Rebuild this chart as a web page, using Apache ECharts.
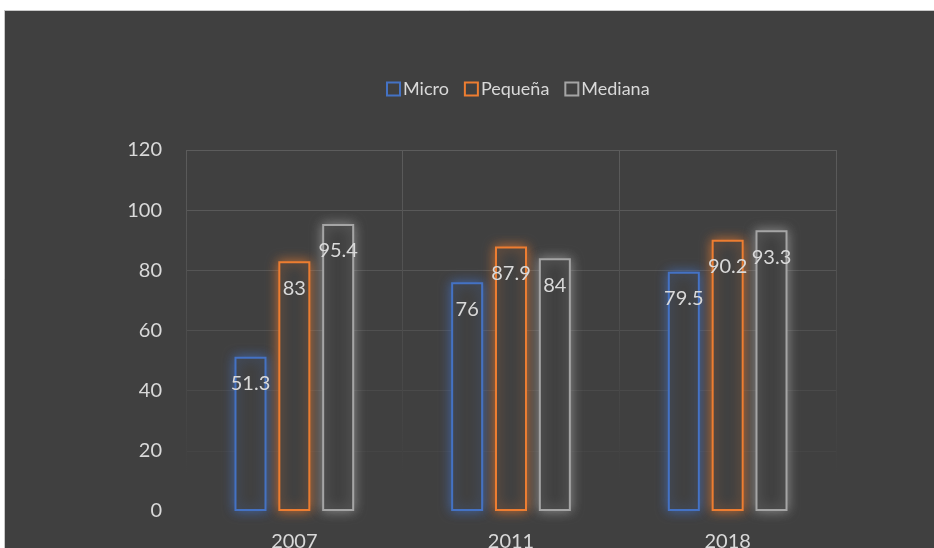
<!DOCTYPE html>
<html>
<head>
<meta charset="utf-8">
<script src="https://cdn.jsdelivr.net/npm/echarts@6/dist/echarts.min.js"></script>
<style>
html,body{margin:0;padding:0;background:#fff;}
#c{width:934px;height:548px;}
</style>
</head>
<body>
<div id="c"></div>
<script>
var categories = ['2007', '2011', '2018'];
var seriesNames = ['Micro', 'Pequeña', 'Mediana'];
var microValues = [51.3, 76, 79.5];
var pequenaValues = [83, 87.9, 90.2];
var medianaValues = [95.4, 84, 93.3];
var yTicks = [0, 20, 40, 60, 80, 100, 120];

var colors = ['#4472c4', '#ed7d31', '#a5a5a5'];
var shadowColors = ['rgba(68,114,196,0.75)', 'rgba(237,125,49,0.75)', 'rgba(180,180,180,0.65)'];
var valuesList = [microValues, pequenaValues, medianaValues];

var chart = echarts.init(document.getElementById('c'), null, {renderer: 'canvas'});
var font = 'Lato, "Open Sans", "Noto Sans", sans-serif';

var series = seriesNames.map(function (name, i) {
  return {
    name: name,
    type: 'bar',
    data: valuesList[i],
    barWidth: 32,
    barGap: '37%',
    itemStyle: {
      color: '#404040',
      borderColor: colors[i],
      borderWidth: 2,
      shadowBlur: 12,
      shadowColor: shadowColors[i]
    },
    label: {
      show: true,
      position: 'insideTop',
      distance: 17,
      color: '#d9d9d9',
      fontSize: 20,
      fontFamily: font
    },
    emphasis: {disabled: true}
  };
});

chart.setOption({
  backgroundColor: '#ffffff',
  animation: false,
  graphic: [{
    type: 'rect',
    z: -100,
    shape: {x: 4.5, y: 10.5, width: 940, height: 550},
    style: {fill: '#404040', stroke: '#c8c8c8', lineWidth: 1}
  }],
  legend: {
    left: 381,
    top: 75,
    itemWidth: 13,
    itemHeight: 13,
    itemGap: 15,
    icon: 'rect',
    textStyle: {color: '#d9d9d9', fontSize: 18, fontFamily: font, padding: [0, 0, 0, -2]},
    data: seriesNames.map(function (n, i) {
      return {name: n, itemStyle: {color: 'rgba(0,0,0,0)', borderColor: colors[i], borderWidth: 2}};
    })
  },
  grid: {left: 186, right: 98, top: 150, bottom: 37, containLabel: false, outerBoundsMode: 'none'},
  xAxis: {
    type: 'category',
    data: categories,
    axisLine: {show: false},
    axisTick: {show: false},
    axisLabel: {color: '#d9d9d9', fontSize: 20, fontFamily: font, margin: 21},
    splitLine: {
      show: true,
      lineStyle: {
        width: 1,
        color: {
          type: 'linear', x: 0, y: 0, x2: 0, y2: 1,
          colorStops: [
            {offset: 0, color: '#5c5c5c'},
            {offset: 0.9, color: '#404040'},
            {offset: 1, color: '#404040'}
          ]
        }
      }
    }
  },
  yAxis: {
    type: 'value',
    min: yTicks[0],
    max: yTicks[yTicks.length - 1],
    interval: yTicks[1] - yTicks[0],
    axisLine: {show: false},
    axisTick: {show: false},
    axisLabel: {color: '#d9d9d9', fontSize: 20, fontFamily: font, margin: 24},
    splitLine: {
      show: true,
      lineStyle: {
        width: 1,
        color: ['#404040', '#454545', '#4a4a4a', '#505050', '#555555', '#595959', '#5c5c5c']
      }
    }
  },
  series: series
});
</script>
</body>
</html>
